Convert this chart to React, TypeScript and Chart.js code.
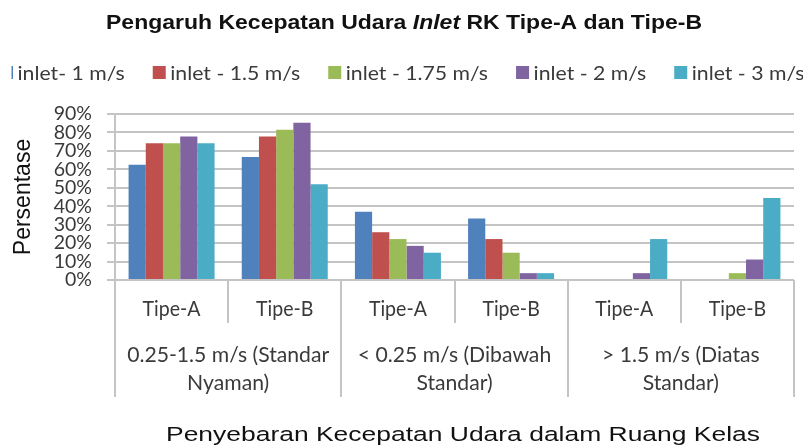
import React, { useEffect, useRef } from 'react';
import { Chart, registerables } from 'chart.js';

Chart.register(...registerables);

const CATEGORIES = ['Tipe-A', 'Tipe-B', 'Tipe-A', 'Tipe-B', 'Tipe-A', 'Tipe-B'];
const GROUP_LABELS = [
  ['0.25-1.5 m/s (Standar', 'Nyaman)'],
  ['< 0.25 m/s (Dibawah', 'Standar)'],
  ['> 1.5 m/s (Diatas', 'Standar)'],
];
const SERIES_LABELS = ['inlet- 1 m/s', 'inlet - 1.5 m/s', 'inlet - 1.75 m/s', 'inlet - 2 m/s', 'inlet - 3 m/s'];
const SERIES_COLORS = ['#4F81BD', '#C0504D', '#9BBB59', '#8064A2', '#4BACC6'];

const INLET_1 = [62.5, 66.7, 37.0, 33.3, 0, 0];
const INLET_1_5 = [74.1, 77.8, 25.9, 22.2, 0, 0];
const INLET_1_75 = [74.1, 81.5, 22.2, 14.8, 0, 3.7];
const INLET_2 = [77.8, 85.2, 18.5, 3.7, 3.7, 11.1];
const INLET_3 = [74.1, 51.9, 14.8, 3.7, 22.2, 44.4];
const SERIES_VALUES = [INLET_1, INLET_1_5, INLET_1_75, INLET_2, INLET_3];

const Y_MIN = 0;
const Y_MAX = 90;
const Y_STEP = 10;

const TITLE_PARTS: [string, boolean][] = [
  ['Pengaruh Kecepatan Udara ', false],
  ['Inlet', true],
  [' RK Tipe-A dan Tipe-B', false],
];
const X_TITLE = 'Penyebaran Kecepatan Udara dalam Ruang Kelas';
const Y_TITLE = 'Persentase';

const GRID = '#c4c4c4';
const TEXT = '#3a3a3a';

function drawFitted(
  ctx: CanvasRenderingContext2D,
  text: string,
  font: string,
  x: number,
  baseline: number,
  align: 'left' | 'center' | 'right',
  sx: number,
  color: string
) {
  ctx.save();
  ctx.font = font;
  ctx.fillStyle = color;
  ctx.textBaseline = 'alphabetic';
  ctx.textAlign = 'left';
  const w = ctx.measureText(text).width * sx;
  const left = align === 'left' ? x : align === 'center' ? x - w / 2 : x - w;
  ctx.translate(left, baseline);
  ctx.scale(sx, 1);
  ctx.fillText(text, 0, 0);
  ctx.restore();
  return w;
}

function fitScale(ctx: CanvasRenderingContext2D, text: string, font: string, target: number) {
  ctx.save();
  ctx.font = font;
  const w = ctx.measureText(text).width;
  ctx.restore();
  return target / w;
}

const decorPlugin = {
  id: 'decor',
  afterDraw(chart: any) {
    const { ctx, chartArea: ca } = chart;
    const xs = chart.scales.x;

    // ---- Title with italic part
    const tf = 'bold 19.5px "Liberation Sans"';
    const tfi = 'italic bold 19.5px "Liberation Sans"';
    ctx.save();
    let total = 0;
    for (const [t, it] of TITLE_PARTS) {
      ctx.font = it ? tfi : tf;
      total += ctx.measureText(t).width;
    }
    ctx.restore();
    const tsx = 596 / total;
    let tx = 404 - 298;
    for (const [t, it] of TITLE_PARTS) {
      tx += drawFitted(ctx, t, it ? tfi : tf, tx, 28.5, 'left', tsx, '#111111');
    }

    // ---- Legend
    const lf = '20px Lato';
    const lsx = fitScale(ctx, SERIES_LABELS[1], lf, 130);
    let lx = 17.5;
    ctx.save();
    ctx.beginPath();
    ctx.rect(11.5, 0, chart.width, chart.height);
    ctx.clip();
    SERIES_LABELS.forEach((lab, i) => {
      ctx.fillStyle = SERIES_COLORS[i];
      ctx.fillRect(lx - 17.5, 66, 13, 13);
      const w = drawFitted(ctx, lab, lf, lx, 79.5, 'left', lsx, TEXT);
      lx += w + 28 + 17.5;
    });
    ctx.restore();

    // ---- X axis separators
    const n = CATEGORIES.length;
    const px = (i: number) => xs.getPixelForValue(i);
    ctx.save();
    ctx.strokeStyle = GRID;
    ctx.lineWidth = 2;
    for (let i = 0; i <= n; i++) {
      let xPos: number;
      if (i === 0) xPos = ca.left;
      else if (i === n) xPos = ca.right;
      else xPos = (px(i - 1) + px(i)) / 2;
      const isGroup = i % 2 === 0;
      const bottom = isGroup ? ca.bottom + 117 : ca.bottom + 43;
      ctx.beginPath();
      ctx.moveTo(Math.round(xPos), ca.bottom);
      ctx.lineTo(Math.round(xPos), bottom);
      ctx.stroke();
    }
    ctx.restore();

    // ---- Category labels
    const cf = '21px Lato';
    const csx = fitScale(ctx, CATEGORIES[0], cf, 58);
    CATEGORIES.forEach((c, i) => {
      drawFitted(ctx, c, cf, px(i), ca.bottom + 36, 'center', csx, TEXT);
    });

    // ---- Group labels
    const gf = '21.5px Lato';
    const gsx = fitScale(ctx, GROUP_LABELS[0][0], gf, 202);
    GROUP_LABELS.forEach((lines, g) => {
      const cx = (px(2 * g) + px(2 * g + 1)) / 2;
      lines.forEach((ln, k) => {
        drawFitted(ctx, ln, gf, cx, ca.bottom + 82 + k * 28, 'center', gsx, TEXT);
      });
    });

    // ---- X title
    const xf = '20.5px "Liberation Sans"';
    const xsx = fitScale(ctx, X_TITLE, xf, 594);
    drawFitted(ctx, X_TITLE, xf, (ca.left + ca.right) / 2 + 8.5, ca.bottom + 161, 'center', xsx, '#111111');
  },
};

export default function App() {
  const ref = useRef<HTMLCanvasElement | null>(null);

  useEffect(() => {
    document.body.style.margin = '0';
    if (!ref.current) return;
    const chart = new Chart(ref.current, {
      type: 'bar',
      data: {
        labels: CATEGORIES,
        datasets: SERIES_LABELS.map((label, i) => ({
          label,
          data: SERIES_VALUES[i],
          backgroundColor: SERIES_COLORS[i],
          borderWidth: 0,
          categoryPercentage: 0.76,
          barPercentage: 1.0,
        })),
      },
      options: {
        responsive: false,
        animation: false,
        devicePixelRatio: 1,
        layout: { padding: { top: 114, right: 9, bottom: 167, left: 0 } },
        plugins: {
          legend: { display: false },
          title: { display: false },
          tooltip: { enabled: false },
        },
        scales: {
          x: { display: false },
          y: {
            min: Y_MIN,
            max: Y_MAX,
            afterFit: (scale: any) => {
              scale.width = 115;
            },
            ticks: {
              stepSize: Y_STEP,
              autoSkip: false,
              padding: 15,
              color: TEXT,
              font: { family: 'Lato', size: 19.5 },
              callback: (v: any) => `${v}%`,
            },
            grid: {
              color: GRID,
              lineWidth: 2,
              tickLength: 8,
            },
            border: { display: true, color: GRID, width: 2 },
            title: {
              display: true,
              text: Y_TITLE,
              color: '#111111',
              font: { family: 'Liberation Sans', size: 23 },
              padding: { top: 10, bottom: 0 },
            },
          },
        },
      },
      plugins: [decorPlugin],
    });
    return () => chart.destroy();
  }, []);

  return (
    <div style={{ width: 803, height: 447 }}>
      <canvas ref={ref} width={803} height={447} style={{ display: 'block' }} />
    </div>
  );
}
